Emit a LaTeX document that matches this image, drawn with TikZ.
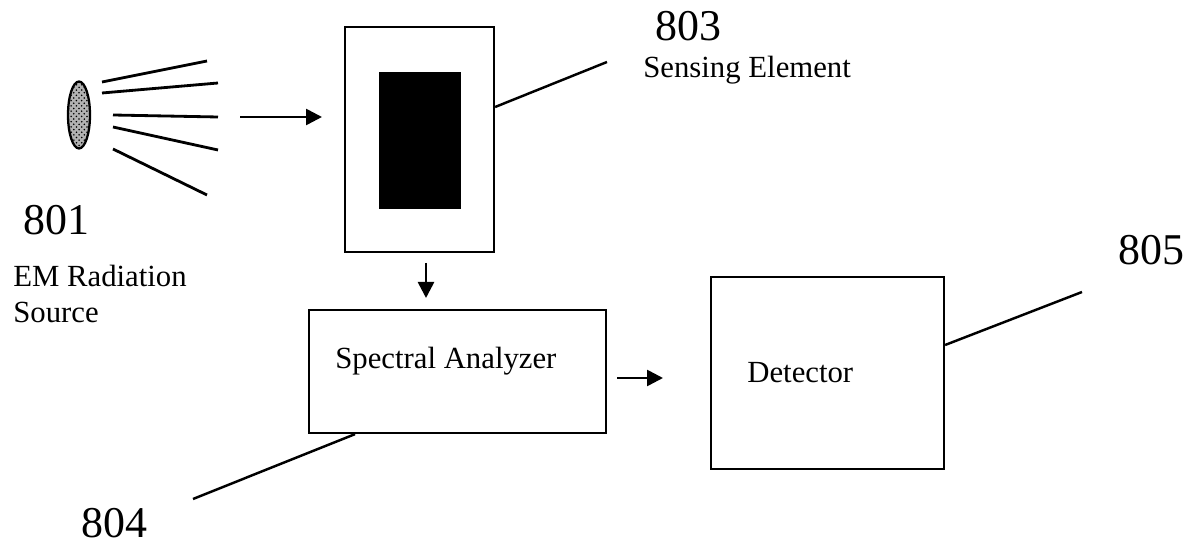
\documentclass[tikz,border=0pt]{standalone}
\usepackage{fontspec}
\setmainfont{Liberation Serif}
\usetikzlibrary{arrows.meta,shapes.geometric,patterns}
\begin{document}
\begin{tikzpicture}[x=0.02cm,y=-0.02cm,
  lbl/.style={inner sep=0pt,anchor=base west,font=\fontsize{17.5}{20}\selectfont},
  num/.style={inner sep=0pt,anchor=base west,font=\fontsize{25}{28}\selectfont},
  box/.style={draw,line width=1.3pt,rectangle,inner sep=0pt},
  ray/.style={line width=1.6pt},
  arr/.style={line width=1.5pt,-{Triangle[length=0.32cm,width=0.32cm]}},
  lead/.style={line width=1.4pt}]
\useasboundingbox (0,0) rectangle (1197,546);
% source
\node[ellipse,draw,line width=1.3pt,fill=gray!60,postaction={pattern=crosshatch dots,pattern color=black},minimum width=0.44cm,minimum height=1.34cm,inner sep=0pt] (src) at (79,115) {};
\draw[ray] (102,82) -- (207,61);
\draw[ray] (102,93) -- (218,83);
\draw[ray] (113,115) -- (218,117);
\draw[ray] (113,127) -- (218,150);
\draw[ray] (113,149) -- (207,195);
% sensing element
\node[box,minimum width=2.98cm,minimum height=4.5cm] (sens) at (419.5,139.5) {};
\node[fill=black,inner sep=0pt,minimum width=1.64cm,minimum height=2.74cm] (core) at (420,140.5) {};
% spectral analyzer
\node[box,minimum width=5.94cm,minimum height=2.46cm] (spec) at (457.5,371.5) {};
\node[lbl] (spect) at (335,369) {Spectral Analyzer};
% detector
\node[box,minimum width=4.66cm,minimum height=3.84cm] (det) at (827.5,373) {};
\node[lbl] (dett) at (747,383) {Detector};
% arrows
\coordinate (a1s) at (240,117);
\coordinate (a1e) at (322,117);
\draw[arr] (a1s) -- (a1e);
\coordinate (a2s) at (426,263);
\coordinate (a2e) at (426,298);
\draw[arr] (a2s) -- (a2e);
\coordinate (a3s) at (617,378);
\coordinate (a3e) at (663,378);
\draw[arr] (a3s) -- (a3e);
% leaders
\coordinate (l803) at (607,62);
\draw[lead] (sens.east |- 0,107) -- (l803);
\coordinate (l804) at (193,499);
\draw[lead] (spec.south -| 355,0) -- (l804);
\coordinate (l805) at (1082,292);
\draw[lead] (det.east |- 0,345) -- (l805);
% labels
\node[num] (n801) at (23,235) {801};
\node[lbl] (t801a) at (13,287) {EM Radiation};
\node[lbl] (t801b) at (13,323) {Source};
\node[num] (n803) at (655,41) {803};
\node[lbl] (t803) at (643,78) {Sensing Element};
\node[num] (n804) at (81,538) {804};
\node[num] (n805) at (1118,265) {805};
\end{tikzpicture}
\end{document}
